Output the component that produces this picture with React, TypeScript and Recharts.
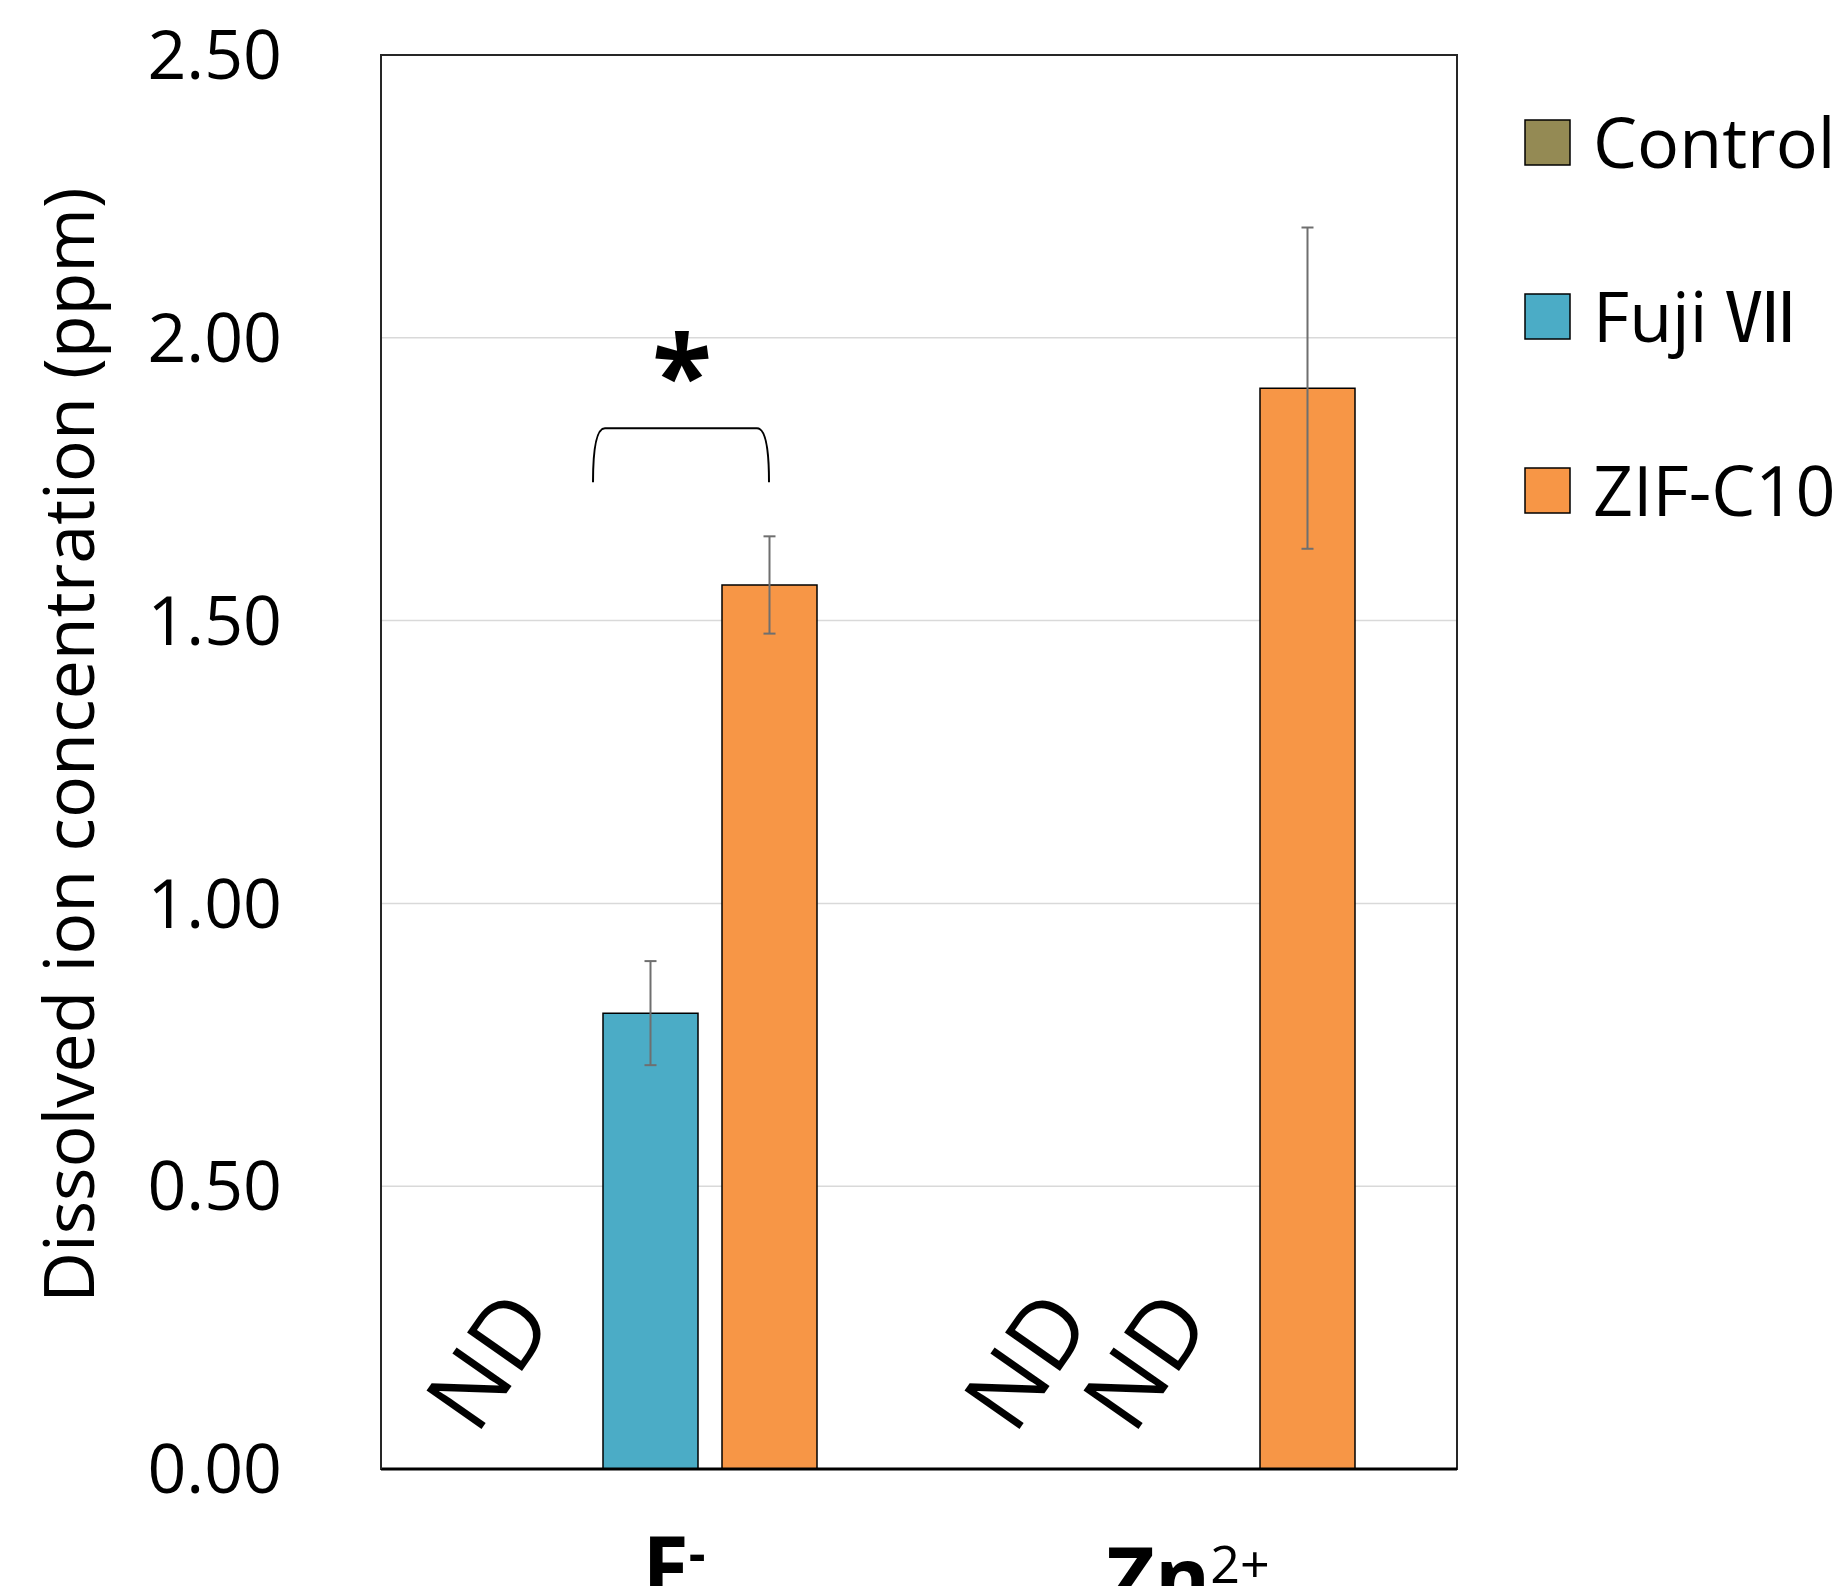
import { BarChart, Bar, XAxis, YAxis, CartesianGrid, ErrorBar, ReferenceDot, ReferenceArea, Rectangle } from 'recharts'

const FONT = '"Open Sans", "Noto Sans", "Noto Sans CJK JP", sans-serif'
const LEGEND_FONT = '"Open Sans", "Noto Sans CJK JP", sans-serif'

// ions on the x axis
const ions = ['F-', 'Zn2+']
const ionBase = ['F', 'Zn']
const ionSup = ['-', '2+']

// dissolved ion concentration (ppm), mean and SD
const controlValues = [0, 0]
const fujiValues = [0.806, 0]
const fujiErrors = [0.092, 0]
const zifValues = [1.563, 1.911]
const zifErrors = [0.086, 0.284]

const yTicks = [0, 0.5, 1, 1.5, 2, 2.5]
const seriesNames = ['Control', 'Fuji Ⅶ', 'ZIF-C10']
const seriesColors = ['#948A54', '#4BACC6', '#F79646']

// significance bracket between Fuji VII and ZIF-C10 for F-
const bracketTop = 1.84

const chartData = ions.map((ion, i) => ({
  ion,
  control: controlValues[i],
  fuji: fujiValues[i],
  fujiErr: fujiErrors[i],
  zif: zifValues[i],
  zifErr: zifErrors[i],
}))

// bar shape that writes "ND" where nothing was detected
const ndShape = (values: number[]) => (props: any) => {
  if (values[props.index] !== 0) return <Rectangle {...props} />
  const cx = props.x + props.width / 2 - 45
  const cy = props.y + props.height - 110
  return (
    <text
      transform={`translate(${cx},${cy}) rotate(-55)`}
      textAnchor="middle"
      dominantBaseline="central"
      fontSize={94}
      fontFamily={FONT}
      fill="#000"
    >
      ND
    </text>
  )
}

function IonTick(props: any) {
  const { x, y, payload } = props
  const i = payload.index
  const shift = i === 0 ? 24 : 0
  const baseline = i === 0 ? 128 : 139
  return (
    <text x={x + shift} y={y + baseline} textAnchor="middle" fontFamily={FONT} fill="#000">
      <tspan fontSize={84} fontWeight={700}>{ionBase[i]}</tspan>
      <tspan fontSize={52} dy={-25} fontWeight={i === 0 ? 700 : 400}>{ionSup[i]}</tspan>
    </text>
  )
}

function YTitle(props: any) {
  const { viewBox } = props
  const x = viewBox.x + 94
  const y = viewBox.y + viewBox.height / 2 - 17
  return (
    <text x={x} y={y} transform={`rotate(-90, ${x}, ${y})`} textAnchor="middle" fontSize={70} fontFamily={FONT} fill="#000">
      Dissolved ion concentration (ppm)
    </text>
  )
}

function SignificanceBracket(props: any) {
  const { cx, cy } = props
  const left = cx - 57
  const right = cx + 119
  const bottom = cy + 54
  const d = `M${left},${bottom} Q${left},${cy} ${left + 12},${cy} L${right - 12},${cy} Q${right},${cy} ${right},${bottom}`
  return (
    <g>
      <path d={d} fill="none" stroke="#000" strokeWidth={2} />
      <text x={cx + 32} y={cy - 14} textAnchor="middle" fontSize={110} fontWeight={700} fontFamily={FONT} fill="#000">
        *
      </text>
    </g>
  )
}

function LegendBox() {
  return (
    <svg width={1845} height={1586} style={{ position: 'absolute', left: 0, top: 0, pointerEvents: 'none' }}>
      {seriesNames.map((name, i) => (
        <g key={name}>
          <rect x={1525} y={120 + i * 174} width={45} height={45} fill={seriesColors[i]} stroke="#000" strokeWidth={1.5} />
          <text x={1593} y={168 + i * 174} fontSize={70} fontFamily={LEGEND_FONT} fill="#000">
            {name}
          </text>
        </g>
      ))}
    </svg>
  )
}

export default function App() {
  return (
    <div style={{ position: 'absolute', left: 0, top: 0, width: 1845, height: 1586, background: '#fff' }}>
      <BarChart
        width={1845}
        height={1586}
        data={chartData}
        margin={{ top: 55, right: 388, bottom: 0, left: 0 }}
        barSize={95}
        barGap={24}
      >
        <CartesianGrid vertical={false} stroke="#d9d9d9" strokeWidth={1.5} />
        {/* plot frame */}
        <ReferenceArea y1={0} y2={2.5} fill="none" stroke="#262626" strokeWidth={2} ifOverflow="visible" />
        <XAxis
          dataKey="ion"
          height={117}
          tickLine={false}
          tickSize={0}
          tickMargin={0}
          axisLine={{ stroke: '#000', strokeWidth: 3 }}
          tick={<IonTick />}
          interval={0}
        />
        <YAxis
          width={381}
          domain={[0, 2.5]}
          ticks={yTicks}
          tickFormatter={(v: number) => v.toFixed(2)}
          tickLine={false}
          tickSize={0}
          tickMargin={99}
          axisLine={{ stroke: '#262626', strokeWidth: 2 }}
          tick={{ fontSize: 68, fill: '#000', fontFamily: FONT }}
          label={YTitle}
        />
        <Bar
          dataKey="control"
          name={seriesNames[0]}
          fill={seriesColors[0]}
          stroke="#000"
          strokeWidth={1.5}
          shape={ndShape(controlValues)}
          isAnimationActive={false}
        />
        <Bar
          dataKey="fuji"
          name={seriesNames[1]}
          fill={seriesColors[1]}
          stroke="#000"
          strokeWidth={1.5}
          shape={ndShape(fujiValues)}
          isAnimationActive={false}
        >
          <ErrorBar dataKey="fujiErr" width={6} strokeWidth={2} stroke="#6f6f6f" direction="y" />
        </Bar>
        <Bar dataKey="zif" name={seriesNames[2]} fill={seriesColors[2]} stroke="#000" strokeWidth={1.5} isAnimationActive={false}>
          <ErrorBar dataKey="zifErr" width={6} strokeWidth={2} stroke="#6f6f6f" direction="y" />
        </Bar>
        <ReferenceDot x={ions[0]} y={bracketTop} shape={SignificanceBracket} />
      </BarChart>
      <LegendBox />
    </div>
  )
}
